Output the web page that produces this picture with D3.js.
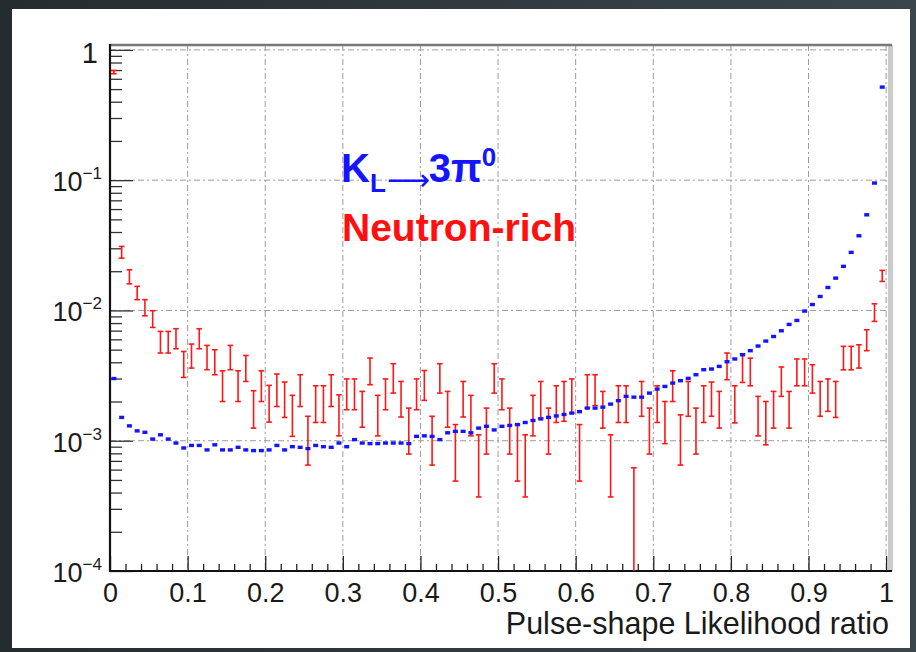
<!DOCTYPE html>
<html>
<head>
<meta charset="utf-8">
<script src="https://cdn.jsdelivr.net/npm/d3@7"></script>
<style>
    body { margin: 0; background: #2b3337; }
    svg { display: block; }
    text { font-family: "Liberation Sans", Arial, Helvetica, sans-serif; }
</style>
</head>
<body>
<div id="psdPlot"><svg></svg></div>
<script>
/** Data (100 bins of width 0.01) **/
var binWidth = 0.01;

// K_L -> 3pi0 (blue markers), one value per bin.
var blueRate = [
    3.00e-3, 1.51e-3, 1.30e-3, 1.19e-3, 1.16e-3, 1.03e-3, 1.11e-3, 1.03e-3, 0.96e-3, 0.88e-3,
    0.92e-3, 0.92e-3, 0.85e-3, 0.93e-3, 0.85e-3, 0.85e-3, 0.89e-3, 0.85e-3, 0.84e-3, 0.84e-3,
    0.85e-3, 0.92e-3, 0.85e-3, 0.90e-3, 0.89e-3, 0.87e-3, 0.92e-3, 0.90e-3, 0.89e-3, 0.96e-3,
    0.90e-3, 1.02e-3, 0.96e-3, 0.95e-3, 0.95e-3, 0.96e-3, 0.96e-3, 0.96e-3, 0.95e-3, 1.08e-3,
    1.09e-3, 1.08e-3, 1.02e-3, 1.15e-3, 1.18e-3, 1.18e-3, 1.15e-3, 1.25e-3, 1.29e-3, 1.21e-3,
    1.29e-3, 1.31e-3, 1.33e-3, 1.38e-3, 1.43e-3, 1.47e-3, 1.51e-3, 1.55e-3, 1.59e-3, 1.63e-3,
    1.67e-3, 1.78e-3, 1.78e-3, 1.81e-3, 1.91e-3, 2.03e-3, 2.19e-3, 2.16e-3, 2.16e-3, 2.32e-3,
    2.49e-3, 2.61e-3, 2.77e-3, 2.89e-3, 3.01e-3, 3.21e-3, 3.51e-3, 3.55e-3, 3.72e-3, 4.04e-3,
    4.24e-3, 4.57e-3, 4.91e-3, 5.33e-3, 5.82e-3, 6.31e-3, 6.98e-3, 7.81e-3, 8.38e-3, 9.89e-3,
    1.11e-2, 1.28e-2, 1.50e-2, 1.77e-2, 2.18e-2, 2.79e-2, 3.74e-2, 5.42e-2, 9.50e-2, 5.18e-1
];

// Neutron-rich sample (red error bars): lower and upper end of each bar.
var redLow = [
    6.56e-1, 2.52e-2, 1.60e-2, 1.21e-2, 9.10e-3, 7.41e-3, 4.71e-3, 4.71e-3, 5.08e-3, 3.06e-3,
    3.61e-3, 5.08e-3, 3.51e-3, 3.21e-3, 2.00e-3, 3.51e-3, 2.00e-3, 2.85e-3, 1.25e-3, 2.00e-3,
    1.39e-3, 1.83e-3, 1.51e-3, 1.08e-3, 1.83e-3, 0.65e-3, 1.38e-3, 1.38e-3, 1.83e-3, 1.09e-3,
    1.73e-3, 1.73e-3, 1.27e-3, 2.69e-3, 1.09e-3, 1.73e-3, 2.32e-3, 1.52e-3, 0.79e-3, 1.73e-3,
    2.04e-3, 0.65e-3, 2.32e-3, 1.27e-3, 0.49e-3, 1.52e-3, 1.09e-3, 0.37e-3, 0.79e-3, 2.32e-3,
    1.73e-3, 0.79e-3, 0.49e-3, 0.37e-3, 1.09e-3, 1.49e-3, 0.79e-3, 1.38e-3, 1.41e-3, 1.63e-3,
    0.49e-3, 1.78e-3, 1.86e-3, 1.25e-3, 0.37e-3, 1.38e-3, 1.38e-3, 0.09e-3, 1.54e-3, 0.79e-3,
    1.38e-3, 0.95e-3, 2.00e-3, 0.65e-3, 1.54e-3, 0.79e-3, 1.38e-3, 1.54e-3, 1.25e-3, 2.94e-3,
    1.37e-3, 2.80e-3, 2.64e-3, 1.09e-3, 0.93e-3, 1.25e-3, 2.19e-3, 1.25e-3, 2.64e-3, 2.64e-3,
    2.32e-3, 1.54e-3, 1.68e-3, 1.51e-3, 3.50e-3, 3.50e-3, 3.61e-3, 4.91e-3, 8.24e-3, 1.67e-2
];
var redHigh = [
    6.95e-1, 3.10e-2, 2.05e-2, 1.53e-2, 1.21e-2, 9.95e-3, 6.90e-3, 6.90e-3, 7.24e-3, 4.84e-3,
    5.52e-3, 7.24e-3, 5.39e-3, 4.99e-3, 3.44e-3, 5.39e-3, 3.44e-3, 4.51e-3, 2.42e-3, 3.44e-3,
    2.66e-3, 3.25e-3, 2.82e-3, 2.23e-3, 3.21e-3, 1.54e-3, 2.64e-3, 2.64e-3, 3.21e-3, 2.25e-3,
    2.98e-3, 2.98e-3, 2.39e-3, 4.31e-3, 2.23e-3, 2.98e-3, 3.90e-3, 2.85e-3, 1.78e-3, 2.98e-3,
    3.46e-3, 1.54e-3, 3.90e-3, 2.39e-3, 1.33e-3, 2.85e-3, 2.23e-3, 1.11e-3, 1.78e-3, 3.90e-3,
    2.98e-3, 1.78e-3, 1.33e-3, 1.11e-3, 2.23e-3, 2.85e-3, 1.78e-3, 2.64e-3, 2.85e-3, 2.98e-3,
    1.33e-3, 3.21e-3, 3.21e-3, 2.39e-3, 1.11e-3, 2.64e-3, 2.64e-3, 0.62e-3, 2.85e-3, 1.78e-3,
    2.64e-3, 2.00e-3, 3.44e-3, 1.58e-3, 2.85e-3, 1.78e-3, 2.64e-3, 2.82e-3, 2.39e-3, 4.71e-3,
    2.64e-3, 4.65e-3, 4.30e-3, 2.19e-3, 2.00e-3, 2.39e-3, 3.68e-3, 2.39e-3, 4.24e-3, 4.24e-3,
    3.83e-3, 2.85e-3, 2.98e-3, 2.85e-3, 5.30e-3, 5.30e-3, 5.45e-3, 7.11e-3, 1.125e-2, 2.03e-2
];

// Axis ticks.
var xMajorTicks = [0, 0.1, 0.2, 0.3, 0.4, 0.5, 0.6, 0.7, 0.8, 0.9, 1];
var xTickLabels = ["0", "0.1", "0.2", "0.3", "0.4", "0.5", "0.6", "0.7", "0.8", "0.9", "1"];
var yDecades = [-4, -3, -2, -1, 0];
var xTitle = "Pulse-shape Likelihood ratio";


/**
 * Initialize and draw the pulse-shape plot.
 */
function drawPlot()
{
    var width = 916;
    var height = 652;

    var frame_left = 110;
    var frame_right = 890;
    var frame_top = 45;
    var frame_bottom = 571;

    var color_blue = '#1414ff';
    var color_red = '#ff1616';
    var color_grid = '#9c9c9c';

    var svg = d3.select("#psdPlot").select("svg")
        .attr("width", width)
        .attr("height", height);

    // Dark slide background and white canvas.
    var grad = svg.append("defs").append("linearGradient")
        .attr("id", "bgGrad")
        .attr("x1", "0").attr("x2", "1").attr("y1", "0").attr("y2", "0");
    grad.append("stop").attr("offset", "0").attr("stop-color", "#252c30");
    grad.append("stop").attr("offset", "1").attr("stop-color", "#3a464c");

    svg.append("rect")
        .attr("width", width).attr("height", height)
        .attr("fill", "url(#bgGrad)");

    svg.append("rect")
        .attr("x", 12).attr("y", 9)
        .attr("width", 898).attr("height", 639)
        .attr("fill", "#ffffff");

    var xScale = d3.scaleLinear()
        .domain([0, 1.005])
        .range([frame_left, frame_right]);

    var yScale = d3.scaleLog()
        .domain([1e-4, 1.09])
        .range([frame_bottom, frame_top]);

    var yMajor = yDecades.map(function(k) { return Math.pow(10, k); });
    var yMinor = [];
    yDecades.forEach(function(k) {
        if (k < 0)
        {
            for (var m = 2; m <= 9; m++)
                yMinor.push(m * Math.pow(10, k));
        }
    });
    var xMinor = [];
    for (var i = 0; i <= 50; i++)
    {
        if (i % 5 != 0) xMinor.push(i * 0.02);
    }

    // Grid lines.
    var grid = svg.append("g").attr("id", "grid")
        .attr("stroke", color_grid)
        .attr("stroke-width", 1)
        .attr("stroke-dasharray", "6,3,2,3");

    grid.selectAll(".gx")
        .data(xMajorTicks.slice(1))
        .enter().append("line")
        .attr("x1", function(d) { return xScale(d); })
        .attr("x2", function(d) { return xScale(d); })
        .attr("y1", frame_top)
        .attr("y2", frame_bottom);

    grid.selectAll(".gy")
        .data(yMajor.slice(1))
        .enter().append("line")
        .attr("x1", frame_left)
        .attr("x2", frame_right)
        .attr("y1", function(d) { return yScale(d); })
        .attr("y2", function(d) { return yScale(d); });

    // Frame: grey right edge, dark top edge.
    svg.append("rect")
        .attr("x", frame_right - 2).attr("y", frame_top)
        .attr("width", 5).attr("height", frame_bottom - frame_top)
        .attr("fill", "#cccccc");
    svg.append("line")
        .attr("x1", frame_left).attr("x2", frame_right + 2)
        .attr("y1", frame_top).attr("y2", frame_top)
        .attr("stroke", "#777777").attr("stroke-width", 2.5);

    // Axes ticks (d3 axes, no labels).
    var xAxisMajor = d3.axisTop(xScale).tickValues(xMajorTicks).tickSize(15).tickFormat("");
    var xAxisMinor = d3.axisTop(xScale).tickValues(xMinor).tickSize(7).tickFormat("");
    var yAxisMajor = d3.axisRight(yScale).tickValues(yMajor).tickSize(23).tickFormat("");
    var yAxisMinor = d3.axisRight(yScale).tickValues(yMinor).tickSize(12).tickFormat("");

    [xAxisMajor, xAxisMinor].forEach(function(ax) {
        var g = svg.append("g")
            .attr("transform", "translate(0," + frame_bottom + ")")
            .call(ax);
        g.select(".domain").remove();
        g.selectAll("line").attr("stroke", "#222").attr("stroke-width", 1.3);
    });
    [yAxisMajor, yAxisMinor].forEach(function(ax) {
        var g = svg.append("g")
            .attr("transform", "translate(" + frame_left + ",0)")
            .call(ax);
        g.select(".domain").remove();
        g.selectAll("line").attr("stroke", "#333").attr("stroke-width", 1.3);
    });

    svg.append("line")
        .attr("x1", frame_left).attr("x2", frame_left)
        .attr("y1", frame_top - 1).attr("y2", frame_bottom + 1)
        .attr("stroke", "#111").attr("stroke-width", 2.2);
    svg.append("line")
        .attr("x1", frame_left).attr("x2", frame_right + 2)
        .attr("y1", frame_bottom).attr("y2", frame_bottom)
        .attr("stroke", "#111").attr("stroke-width", 2.2);

    // X labels.
    var xLabels = d3.axisBottom(xScale)
        .tickValues(xMajorTicks)
        .tickSize(0)
        .tickPadding(12)
        .tickFormat(function(d, i) { return xTickLabels[i]; });
    var gxl = svg.append("g")
        .attr("transform", "translate(0," + frame_bottom + ")")
        .call(xLabels);
    gxl.select(".domain").remove();
    gxl.selectAll("text")
        .attr("fill", "#1a1a1a")
        .style("font-size", "27px")
        .style("font-family", "'Liberation Sans', Arial, sans-serif");

    // Y labels: 1, 10^-1, ...
    var ylab = svg.append("g").attr("fill", "#1a1a1a");
    yDecades.forEach(function(k) {
        var t = ylab.append("text")
            .attr("x", 102)
            .attr("y", yScale(Math.pow(10, k)) + 11)
            .attr("text-anchor", "end")
            .style("font-size", "27px");
        if (k == 0)
        {
            t.attr("x", 98).attr("y", yScale(1) + 13).style("font-size", "29px").text("1");
        }
        else
        {
            t.append("tspan").text("10");
            t.append("tspan")
                .attr("dy", -12)
                .style("font-size", "17px")
                .text("\u2212" + (-k));
        }
    });

    svg.append("text")
        .attr("x", 889)
        .attr("y", 634)
        .attr("text-anchor", "end")
        .attr("fill", "#1a1a1a")
        .style("font-size", "30.5px")
        .text(xTitle);

    // Red error bars.
    var redBins = d3.range(redLow.length);
    var clipY = function(v) { return yScale(Math.max(v, 1e-4)); };
    var bars = svg.append("g").attr("id", "redBars")
        .attr("stroke", color_red)
        .attr("stroke-width", 1.6);

    bars.selectAll(".stem")
        .data(redBins)
        .enter().append("line")
        .attr("x1", function(i) { return xScale((i + 0.5) * binWidth); })
        .attr("x2", function(i) { return xScale((i + 0.5) * binWidth); })
        .attr("y1", function(i) { return clipY(redHigh[i]); })
        .attr("y2", function(i) { return clipY(redLow[i]); });

    [redHigh, redLow].forEach(function(arr) {
        bars.selectAll(null)
            .data(redBins.filter(function(i) { return arr[i] >= 1e-4; }))
            .enter().append("line")
            .attr("x1", function(i) { return xScale((i + 0.5) * binWidth) - 2.8; })
            .attr("x2", function(i) { return xScale((i + 0.5) * binWidth) + 2.8; })
            .attr("y1", function(i) { return yScale(arr[i]); })
            .attr("y2", function(i) { return yScale(arr[i]); });
    });

    // Blue markers.
    svg.append("g").attr("id", "blueMarks")
        .selectAll("rect")
        .data(blueRate)
        .enter().append("rect")
        .attr("x", function(d, i) { return xScale((i + 0.5) * binWidth) - 2.5; })
        .attr("y", function(d) { return yScale(d) - 1.7; })
        .attr("width", 5)
        .attr("height", 3.4)
        .attr("fill", color_blue);

    // Legend texts.
    var kl = svg.append("text")
        .attr("x", 341)
        .attr("y", 182)
        .attr("fill", color_blue)
        .style("font-weight", "bold")
        .style("font-size", "40px");
    kl.append("tspan").text("K");
    kl.append("tspan").attr("dy", 10).style("font-size", "26px").text("L");
    kl.append("tspan").attr("dy", -2).attr("dx", 1)
        .style("font-family", "'DejaVu Sans', sans-serif")
        .style("font-size", "30px").style("font-weight", "normal").text("\u27f6");
    kl.append("tspan").attr("dy", -8).attr("dx", -1).text("3\u03c0");
    kl.append("tspan").attr("dy", -16).style("font-size", "26px").text("0");

    svg.append("text")
        .attr("x", 342)
        .attr("y", 241)
        .attr("fill", "#ff1010")
        .style("font-weight", "bold")
        .style("font-size", "39px")
        .text("Neutron-rich");
}

drawPlot();
</script>
</body>
</html>
